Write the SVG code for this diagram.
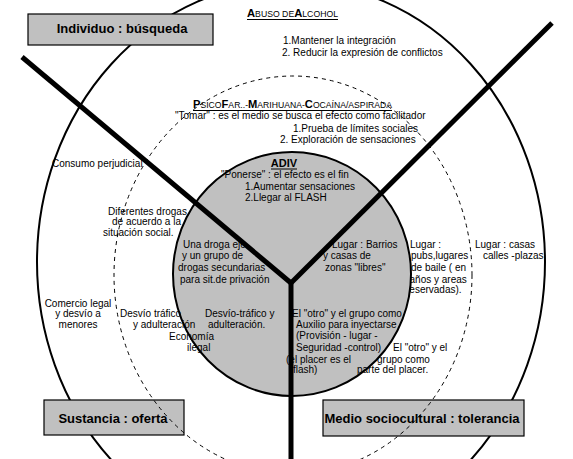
<svg xmlns="http://www.w3.org/2000/svg" width="573" height="459" viewBox="0 0 573 459">
<style>
.t{font-family:"Liberation Sans",Arial,sans-serif;font-size:10px;fill:#000}
.h{font-family:"Liberation Sans",Arial,sans-serif;fill:#000}
.bx{font-family:"Liberation Sans",Arial,sans-serif;font-size:13px;font-weight:bold;fill:#000}
.box{fill:#c0c0c0;stroke:#000;stroke-width:1.2}
.ring{fill:none;stroke:#000;stroke-width:2}
.dash{fill:none;stroke:#000;stroke-width:1;stroke-dasharray:4 4}
.arm{stroke:#000;stroke-width:5;fill:none}
.ul{stroke:#000;stroke-width:1}
</style>
<rect width="573" height="459" fill="#fff"/>
<g id="ring-abuso">
<ellipse class="ring" cx="291" cy="262" rx="254" ry="280"/>
<text class="h" x="247" y="17" textLength="91" lengthAdjust="spacingAndGlyphs"><tspan font-size="11" font-weight="bold">A</tspan><tspan font-size="8.5">BUSO DE</tspan><tspan font-size="11" font-weight="bold">A</tspan><tspan font-size="8.5">LCOHOL</tspan></text>
<line class="ul" x1="247" y1="19.5" x2="338" y2="19.5"/>
<text class="t" x="283" y="44">1.Mantener la integración</text>
<text class="t" x="282" y="56">2. Reducir la expresión de conflictos</text>
<text class="t" x="52" y="167">Consumo perjudicial</text>
<text class="t" x="78" y="307" text-anchor="middle">Comercio legal</text>
<text class="t" x="78" y="317" text-anchor="middle">y desvío a</text>
<text class="t" x="78" y="328" text-anchor="middle">menores</text>
<text class="t" x="475" y="248">Lugar : casas</text>
<text class="t" x="483" y="259">calles -plazas</text>
</g>
<g id="ring-psicofar">
<text class="h" x="193" y="108" textLength="199" lengthAdjust="spacingAndGlyphs"><tspan font-size="11" font-weight="bold">P</tspan><tspan font-size="8.5">SICO</tspan><tspan font-size="11" font-weight="bold">F</tspan><tspan font-size="8.5">AR..-</tspan><tspan font-size="11" font-weight="bold">M</tspan><tspan font-size="8.5">ARIHUANA-</tspan><tspan font-size="11" font-weight="bold">C</tspan><tspan font-size="8.5">OCAÍNA/ASPIRADA</tspan></text>
<line class="ul" x1="193" y1="110.5" x2="392" y2="110.5"/>
<text class="t" x="175" y="119">"Tomar" : es el medio se busca el efecto como facilitador</text>
<text class="t" x="293" y="132">1.Prueba de límites sociales</text>
<text class="t" x="280" y="143">2. Exploración de sensaciones</text>
<text class="t" x="108" y="215">Diferentes drogas</text>
<text class="t" x="112" y="225">de acuerdo a la</text>
<text class="t" x="103" y="236">situación social.</text>
<text class="t" x="410" y="248">Lugar :</text>
<text class="t" x="411" y="259">pubs,lugares</text>
<text class="t" x="411" y="271">de baile ( en</text>
<text class="t" x="404" y="283">baños y areas</text>
<text class="t" x="406" y="293">reservadas).</text>
</g>
<g id="ring-adiv">
<ellipse cx="292" cy="274" rx="119" ry="122" fill="#c0c0c0" stroke="#000" stroke-width="2"/>
<text class="h" x="284" y="167" font-size="11" font-weight="bold" text-anchor="middle">ADIV</text>
<line class="ul" x1="271" y1="169" x2="297" y2="169"/>
<text class="t" x="221" y="178">"Ponerse" : el efecto es el fin</text>
<text class="t" x="245" y="190">1.Aumentar sensaciones</text>
<text class="t" x="245" y="201">2.Llegar al FLASH</text>
<text class="t" x="183" y="248">Una droga eje</text>
<text class="t" x="182" y="259">y un grupo de</text>
<text class="t" x="178" y="271">drogas secundarias</text>
<text class="t" x="180" y="283">para sit.de privación</text>
<text class="t" x="332" y="248">Lugar : Barrios</text>
<text class="t" x="323" y="259">y casas de</text>
<text class="t" x="325" y="271">zonas "libres"</text>
<text class="t" x="169" y="340">Economía</text>
<text class="t" x="187" y="351">ilegal</text>
<text class="t" x="205" y="317">Desvío-tráfico y</text>
<text class="t" x="208" y="328">adulteración.</text>
<text class="t" x="292" y="317">El "otro" y el grupo como</text>
<text class="t" x="296" y="328">Auxilio para inyectarse</text>
<text class="t" x="296" y="339">(Provisión - lugar -</text>
<text class="t" x="296" y="351">Seguridad -control)</text>
<text class="t" x="286" y="363">(el placer es el</text>
<text class="t" x="293" y="373">flash)</text>
</g>
<g id="ring-psicofar-outside">
<text class="t" x="120" y="317">Desvío tráfico</text>
<text class="t" x="133" y="328">y adulteración</text>
<text class="t" x="393" y="351">El "otro" y el</text>
<text class="t" x="377" y="363">grupo como</text>
<text class="t" x="357" y="373">parte del placer.</text>
</g>
<g id="connectors">
<line class="arm" x1="22" y1="57" x2="291" y2="283"/>
<line class="arm" x1="552" y1="23" x2="291" y2="283"/>
<line class="arm" x1="291" y1="281" x2="291" y2="459"/>
</g>
<g id="individuo">
<rect class="box" x="28" y="14" width="185" height="31"/>
<text class="bx" x="122" y="33" text-anchor="middle">Individuo : búsqueda</text>
</g>
<g id="sustancia">
<rect class="box" x="44" y="400" width="140" height="35"/>
<text class="bx" x="113" y="423" text-anchor="middle">Sustancia : oferta</text>
</g>
<g id="medio">
<rect class="box" x="323" y="400" width="201" height="36"/>
<text class="bx" x="422" y="423" text-anchor="middle">Medio sociocultural : tolerancia</text>
</g>
<g id="ring-psicofar-line">
<ellipse class="dash" cx="293" cy="275" rx="179" ry="199"/>
</g>
</svg>
